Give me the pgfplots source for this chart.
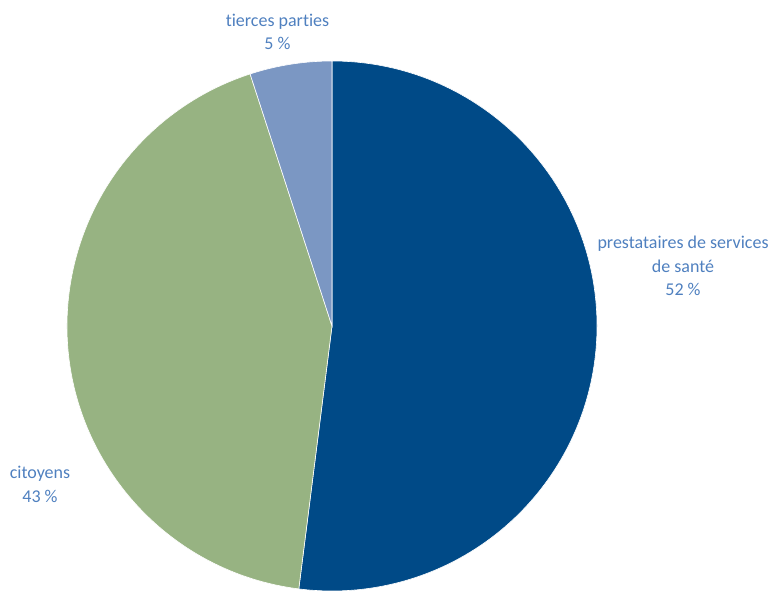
\documentclass[border=0pt]{standalone}
\usepackage{pgfplots}
\usepackage{pgfplotstable}
\pgfplotsset{compat=1.18}
\usepackage{fontspec}
\setmainfont{Carlito}[Ligatures={NoCommon}]
\definecolor{darkblue}{HTML}{004A87}
\definecolor{sage}{HTML}{97B382}
\definecolor{lightblue}{HTML}{7B97C3}
\definecolor{labelblue}{HTML}{4F80BF}
\pgfplotstableread{
label value
prestataires 52
citoyens 43
tierces 5
}\piedata
\pgfplotstablegetelem{0}{value}\of\piedata \let\va\pgfplotsretval
\pgfplotstablegetelem{1}{value}\of\piedata \let\vb\pgfplotsretval
\pgfplotstablegetelem{2}{value}\of\piedata \let\vc\pgfplotsretval
\pgfmathsetmacro{\aA}{90}
\pgfmathsetmacro{\aB}{90-3.6*\va}
\pgfmathsetmacro{\aC}{\aB-3.6*\vb}
\pgfmathsetmacro{\aD}{\aC-3.6*\vc}
\begin{document}
\begin{tikzpicture}
\begin{axis}[
  scale only axis, width=770pt, height=590pt,
  xmin=0, xmax=770, ymin=0, ymax=590,
  hide axis, clip=true,
]
\fill[darkblue, draw=white, line width=0.6pt] (axis cs:332,264) -- ++(\aA:265pt) arc[start angle=\aA, end angle=\aB, radius=265pt] -- cycle;
\fill[sage, draw=white, line width=0.6pt] (axis cs:332,264) -- ++(\aB:265pt) arc[start angle=\aB, end angle=\aC, radius=265pt] -- cycle;
\fill[lightblue, draw=white, line width=0.6pt] (axis cs:332,264) -- ++(\aC:265pt) arc[start angle=\aC, end angle=\aD, radius=265pt] -- cycle;
\node[align=center, text=labelblue, font=\fontsize{18}{23.5}\selectfont] at (axis cs:277.5,558) {tierces parties\\5~\%};
\node[align=center, text=labelblue, font=\fontsize{18}{23.5}\selectfont] at (axis cs:683,324) {prestataires de services\\de santé\\52~\%};
\node[align=center, text=labelblue, font=\fontsize{18}{23.5}\selectfont] at (axis cs:40,105.5) {citoyens\\43~\%};
\end{axis}
\path (0,0) rectangle (770pt,590pt);
\end{tikzpicture}
\end{document}
